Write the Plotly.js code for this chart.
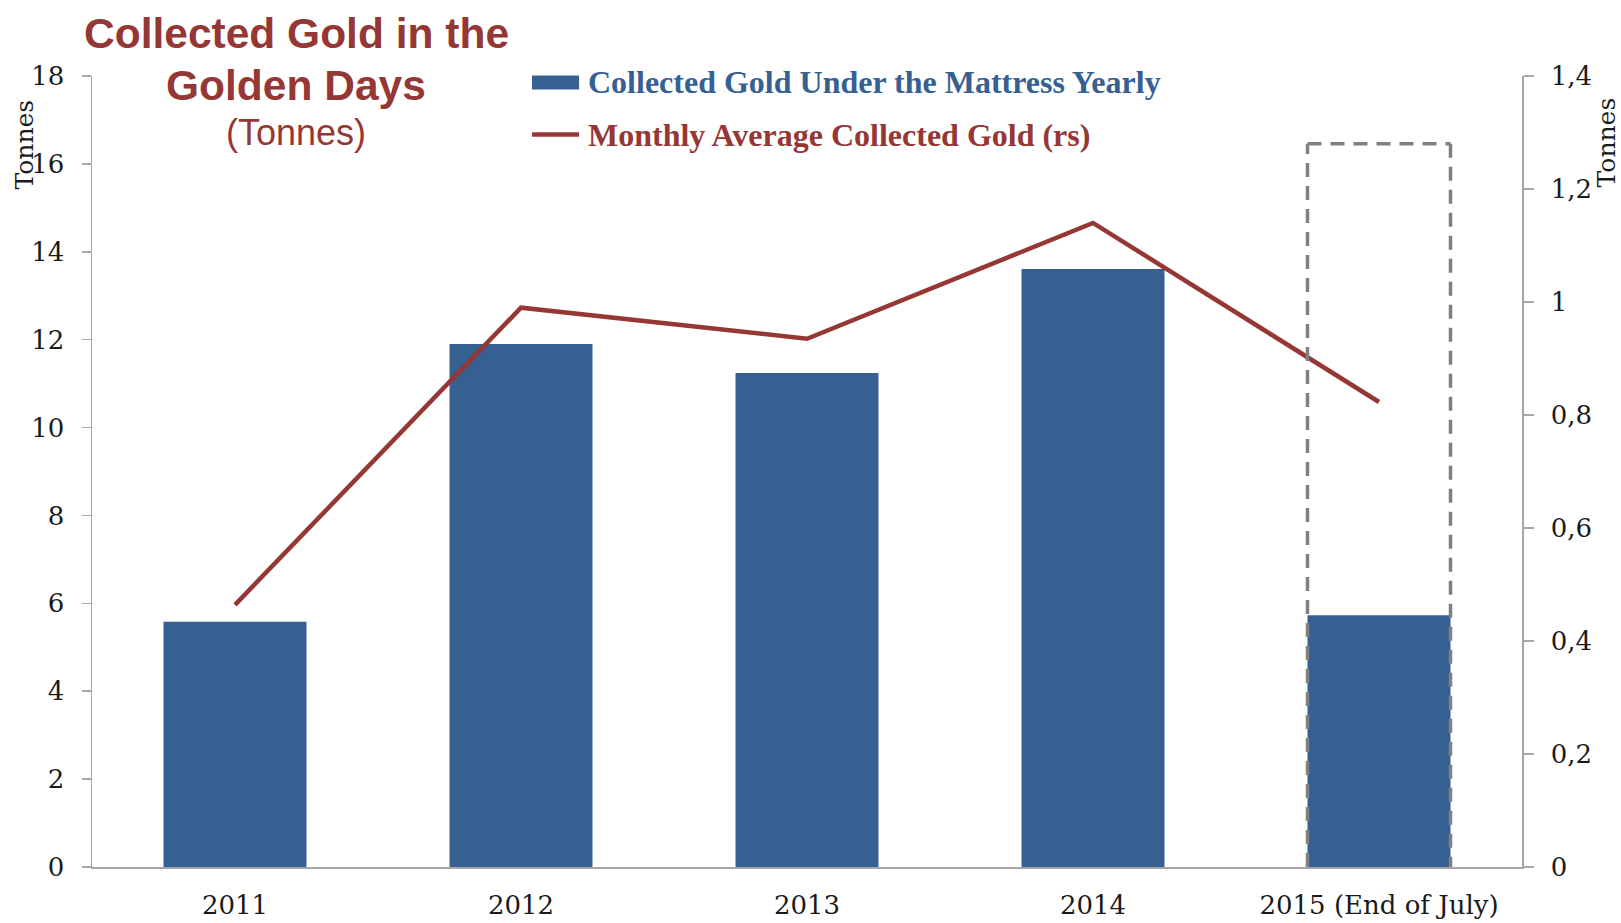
<!DOCTYPE html>
<html>
<head>
<meta charset="utf-8">
<script src="https://cdn.plot.ly/plotly-3.0.1.min.js"></script>
<style>html,body{margin:0;padding:0;background:#fff;}#chart{width:1621px;height:923px;}</style>
</head>
<body>
<div id="chart"></div>
<script>
const categories = ["2011", "2012", "2013", "2014", "2015 (End of July)"];
const yearlyGold = [5.58, 11.9, 11.24, 13.61, 5.73];
const monthlyAvgGold = [0.464, 0.99, 0.935, 1.14, 0.823];
const leftTicks = [0, 2, 4, 6, 8, 10, 12, 14, 16, 18];
const rightTicks = [0, 0.2, 0.4, 0.6, 0.8, 1, 1.2, 1.4];
const barName = "Collected Gold Under the Mattress Yearly";
const lineName = "Monthly Average Collected Gold (rs)";
const titleLines = ["Collected Gold in the", "Golden Days", "(Tonnes)"];
const axisTitle = "Tonnes";

const BLUE = "#366092";
const RED = "#953735";
const GRAY = "#A6A6A6";
const tickFont = {family: "DejaVu Serif", size: 26, color: "#1a1a1a"};

// highlight box around the partial-year category (index 4)
const hiX0 = 3.75, hiX1 = 4.25, hiTop = 16.46;
const dashStyle = {color: "#808080", width: 3.5, dash: "14px,9px"};

const traces = [
  {
    type: "bar", x: categories, y: yearlyGold, name: barName,
    marker: {color: BLUE}, yaxis: "y", hoverinfo: "x+y"
  },
  {
    type: "scatter", mode: "lines", x: categories, y: monthlyAvgGold, name: lineName,
    line: {color: RED, width: 4.5}, yaxis: "y2", hoverinfo: "x+y"
  }
];

const layout = {
  width: 1621, height: 923,
  margin: {l: 92, r: 99, t: 76, b: 56},
  paper_bgcolor: "#fff", plot_bgcolor: "#fff",
  showlegend: false,
  separators: ",.",
  bargap: 0.5,
  xaxis: {
    type: "category", showgrid: false, zeroline: false,
    showline: true, linecolor: GRAY, linewidth: 1.5,
    ticks: "", tickfont: tickFont, ticklabelstandoff: 14
  },
  yaxis: {
    range: [0, 18], tickvals: leftTicks, showgrid: false, zeroline: false,
    showline: true, linecolor: GRAY, linewidth: 1.5,
    ticks: "outside", ticklen: 9, tickcolor: GRAY, tickwidth: 1.5,
    tickfont: tickFont, ticklabelstandoff: 12
  },
  yaxis2: {
    range: [0, 1.4], tickvals: rightTicks, overlaying: "y", side: "right",
    showgrid: false, zeroline: false,
    showline: true, linecolor: GRAY, linewidth: 1.5,
    ticks: "outside", ticklen: 10, tickcolor: GRAY, tickwidth: 1.5,
    tickfont: tickFont, ticklabelstandoff: 12
  },
  shapes: [
    {type: "line", xref: "x", yref: "y", x0: hiX0, x1: hiX0, y0: 0, y1: hiTop, line: dashStyle, layer: "above"},
    {type: "line", xref: "x", yref: "y", x0: hiX0, x1: hiX1, y0: hiTop, y1: hiTop, line: dashStyle, layer: "above"},
    {type: "line", xref: "x", yref: "y", x0: hiX1, x1: hiX1, y0: hiTop, y1: 0, line: dashStyle, layer: "above"},
    {type: "rect", xref: "paper", yref: "paper", x0: 0.3077, x1: 0.3406, y0: 0.9829, y1: 1.0006,
     line: {width: 0}, fillcolor: BLUE},
    {type: "line", xref: "paper", yref: "paper", x0: 0.3077, x1: 0.3406, y0: 0.926, y1: 0.926,
     line: {color: RED, width: 4.5}}
  ],
  annotations: [
    {text: "<b>" + titleLines[0] + "</b>", xref: "paper", yref: "paper", x: 0.1427, y: 1.0537,
     xanchor: "center", yanchor: "middle", showarrow: false,
     font: {family: "Liberation Sans", size: 42.5, color: RED}},
    {text: "<b>" + titleLines[1] + "</b>", xref: "paper", yref: "paper", x: 0.1427, y: 0.988,
     xanchor: "center", yanchor: "middle", showarrow: false,
     font: {family: "Liberation Sans", size: 42.5, color: RED}},
    {text: titleLines[2], xref: "paper", yref: "paper", x: 0.1427, y: 0.9286,
     xanchor: "center", yanchor: "middle", showarrow: false,
     font: {family: "Liberation Sans", size: 36, color: RED}},
    {text: "<b>" + barName + "</b>", xref: "paper", yref: "paper", x: 0.3455, y: 0.993,
     xanchor: "left", yanchor: "middle", showarrow: false,
     font: {family: "Liberation Serif", size: 32, color: BLUE}},
    {text: "<b>" + lineName + "</b>", xref: "paper", yref: "paper", x: 0.3455, y: 0.926,
     xanchor: "left", yanchor: "middle", showarrow: false,
     font: {family: "Liberation Serif", size: 32, color: RED}},
    {text: axisTitle, xref: "paper", yref: "paper", x: -0.0475, y: 0.9135, textangle: -90,
     xanchor: "center", yanchor: "middle", showarrow: false,
     font: {family: "DejaVu Serif", size: 25, color: "#1a1a1a"}},
    {text: axisTitle, xref: "paper", yref: "paper", x: 1.0594, y: 0.916, textangle: -90,
     xanchor: "center", yanchor: "middle", showarrow: false,
     font: {family: "DejaVu Serif", size: 25, color: "#1a1a1a"}}
  ]
};

Plotly.newPlot("chart", traces, layout, {displayModeBar: false, staticPlot: true});
</script>
</body>
</html>
